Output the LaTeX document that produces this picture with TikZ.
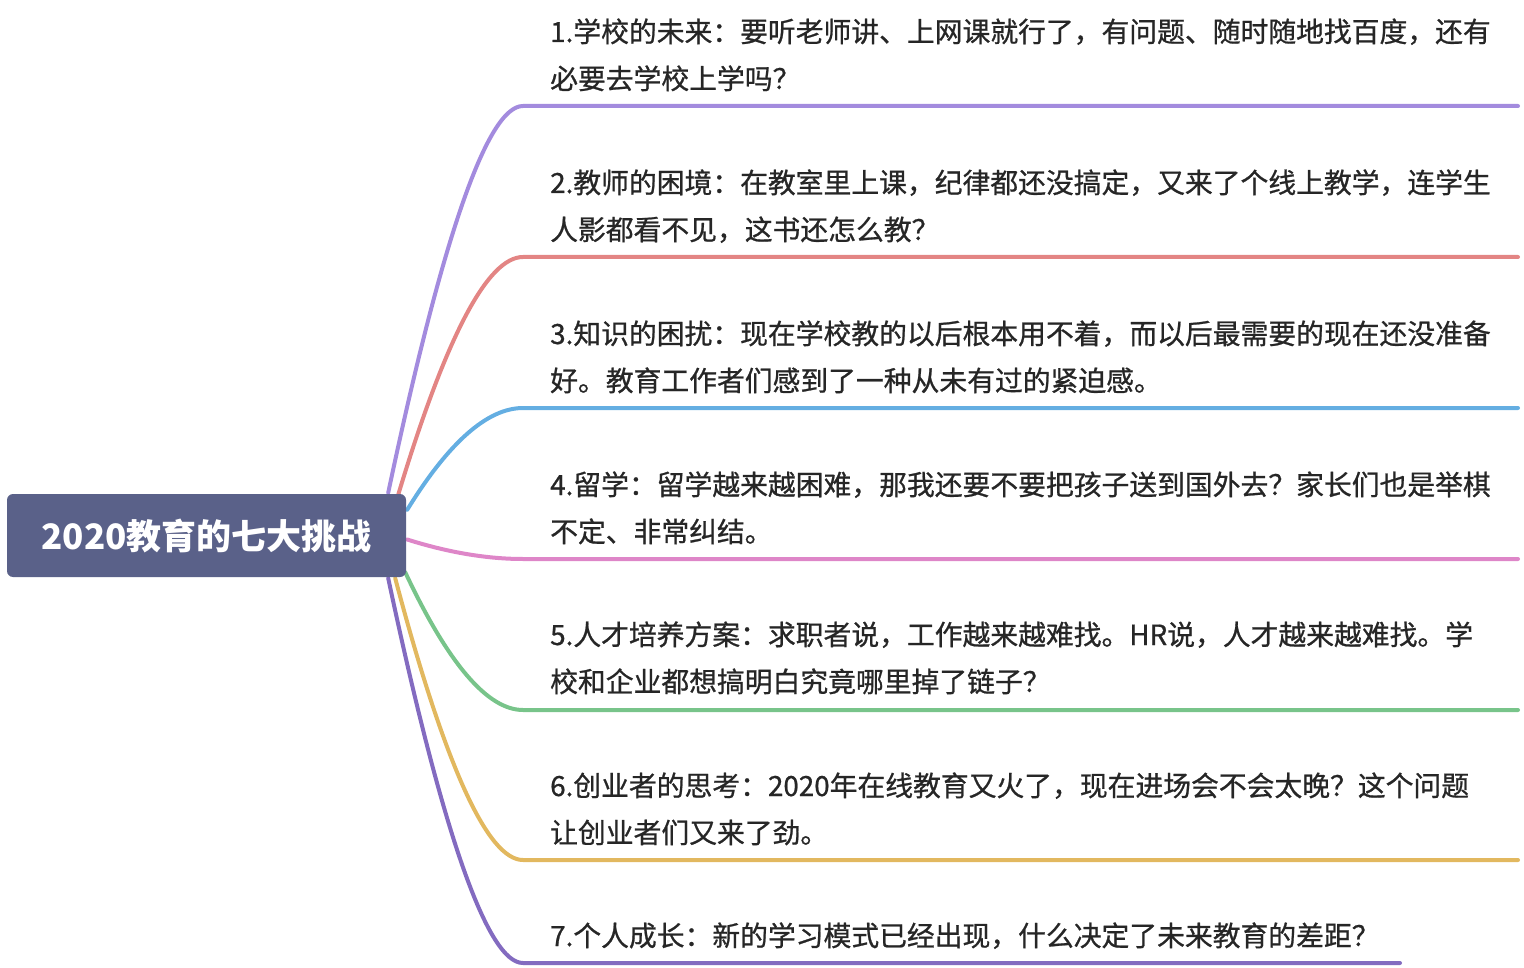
\documentclass[tikz,border=0pt]{standalone}
\usepackage{fontspec}
\setmainfont{Noto Sans CJK SC}
\newfontfamily\bodyfont[FakeBold=0.8]{Noto Sans CJK SC}
\usetikzlibrary{calc,backgrounds}
\definecolor{rootfill}{HTML}{5A6189}
\definecolor{txt}{HTML}{262626}
\definecolor{c1}{HTML}{A38BDE}
\definecolor{c2}{HTML}{E38584}
\definecolor{c3}{HTML}{64AEE2}
\definecolor{c4}{HTML}{DE86C8}
\definecolor{c5}{HTML}{78C48A}
\definecolor{c6}{HTML}{E2B85F}
\definecolor{c7}{HTML}{836BC0}
\begin{document}
\begin{tikzpicture}[x=1pt,y=-1pt,
  rootbox/.style={draw=none,fill=rootfill,rounded corners=6pt,minimum width=399pt,minimum height=83pt,inner sep=0pt,text=white,font=\fontsize{35}{40}\selectfont\bfseries},
  itemtext/.style={anchor=base west,inner sep=0pt,align=left,text=txt,text width=1000pt,font=\bodyfont\fontsize{27.8}{47}\selectfont},
  branch/.style={line width=4pt,line cap=round}]
\useasboundingbox (0,0) rectangle (1524,968);
\node[rootbox] (root) at (206.5,535.5) {2020教育的七大挑战};
\coordinate (s1) at ($(root.north east)+(-18,-1)$);
\coordinate (s2) at ($(root.north east)+(-8,1)$);
\coordinate (s3) at ($(root.north east)+(1,16)$);
\coordinate (s4) at ($(root.east)+(1,4)$);
\coordinate (s5) at ($(root.south east)+(-1,-5)$);
\coordinate (s6) at ($(root.south east)+(-11,1)$);
\coordinate (s7) at ($(root.south east)+(-18,1)$);
\coordinate (e1) at (523,106); \coordinate (f1) at (1518,106);
\coordinate (e2) at (523,257); \coordinate (f2) at (1518,257);
\coordinate (e3) at (523,408); \coordinate (f3) at (1518,408);
\coordinate (e4) at (523,559); \coordinate (f4) at (1518,559);
\coordinate (e5) at (523,710); \coordinate (f5) at (1518,710);
\coordinate (e6) at (523,860); \coordinate (f6) at (1518,860);
\coordinate (e7) at (523,963); \coordinate (f7) at (1400,963);
\begin{scope}[on background layer]
\draw[branch,draw=c1] (s1) .. controls (442.7,235) and (487.7,106) .. (e1) -- (f1);
\draw[branch,draw=c2] (s2) .. controls (446,336.3) and (487.7,257) .. (e2) -- (f2);
\draw[branch,draw=c3] (s3) .. controls (449,442) and (487.7,408) .. (e3) -- (f3);
\draw[branch,draw=c4] (s4) .. controls (449,552.7) and (487.7,559) .. (e4) -- (f4);
\draw[branch,draw=c5] (s5) .. controls (448.3,664) and (487.7,710) .. (e5) -- (f5);
\draw[branch,draw=c6] (s6) .. controls (445,766) and (487.7,860) .. (e6) -- (f6);
\draw[branch,draw=c7] (s7) .. controls (442.7,834.7) and (487.7,963) .. (e7) -- (f7);
\end{scope}
\node[itemtext] (t1) at (550,42) {1.学校的未来：要听老师讲、上网课就行了，有问题、随时随地找百度，还有\\必要去学校上学吗？};
\node[itemtext] (t2) at (550,193) {2.教师的困境：在教室里上课，纪律都还没搞定，又来了个线上教学，连学生\\人影都看不见，这书还怎么教？};
\node[itemtext] (t3) at (550,344) {3.知识的困扰：现在学校教的以后根本用不着，而以后最需要的现在还没准备\\好。教育工作者们感到了一种从未有过的紧迫感。};
\node[itemtext] (t4) at (550,495) {4.留学：留学越来越困难，那我还要不要把孩子送到国外去？家长们也是举棋\\不定、非常纠结。};
\node[itemtext] (t5) at (550,645) {5.人才培养方案：求职者说，工作越来越难找。HR说，人才越来越难找。学\\校和企业都想搞明白究竟哪里掉了链子？};
\node[itemtext] (t6) at (550,796) {6.创业者的思考：2020年在线教育又火了，现在进场会不会太晚？这个问题\\让创业者们又来了劲。};
\node[itemtext] (t7) at (550,946) {7.个人成长：新的学习模式已经出现，什么决定了未来教育的差距？};
\end{tikzpicture}
\end{document}
